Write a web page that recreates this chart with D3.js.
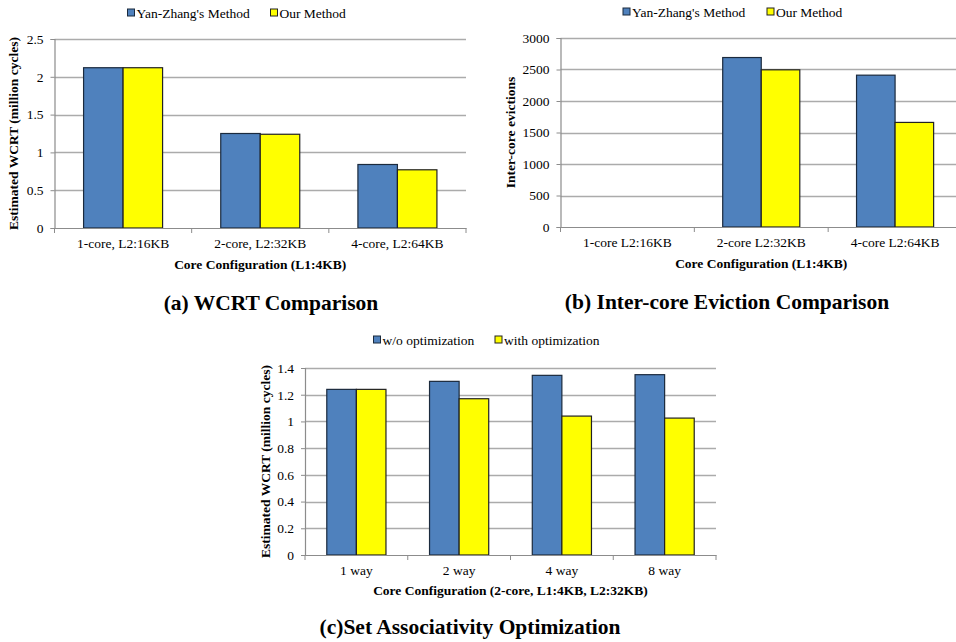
<!DOCTYPE html>
<html>
<head>
<meta charset="utf-8">
<script src="https://cdn.jsdelivr.net/npm/d3@7"></script>
<style>
  html, body { margin: 0; padding: 0; background: #fff; }
  svg { display: block; }
  text { font-family: "Liberation Serif", "Times New Roman", serif; fill: #000; }
</style>
</head>
<body>
<svg id="chart" width="956" height="642"></svg>
<script>
// ---------- DATA ----------
const seriesAB = ["Yan-Zhang's Method", "Our Method"];
const seriesC = ["w/o optimization", "with optimization"];

const categoriesA = ["1-core, L2:16KB", "2-core, L2:32KB", "4-core, L2:64KB"];
const yanZhangA = [2.12, 1.25, 0.84];
const ourMethodA = [2.12, 1.24, 0.77];
const yTicksA = [0, 0.5, 1, 1.5, 2, 2.5];

const categoriesB = ["1-core L2:16KB", "2-core L2:32KB", "4-core L2:64KB"];
const yanZhangB = [0, 2690, 2410];
const ourMethodB = [0, 2495, 1660];
const yTicksB = [0, 500, 1000, 1500, 2000, 2500, 3000];

const categoriesC = ["1 way", "2 way", "4 way", "8 way"];
const withoutOptC = [1.24, 1.30, 1.345, 1.35];
const withOptC = [1.24, 1.17, 1.04, 1.025];
const yTicksC = [0, 0.2, 0.4, 0.6, 0.8, 1, 1.2, 1.4];

// ---------- STYLE ----------
const colors = ["#4F81BD", "#FFFF00"];
const strokes = ["#1b2a3d", "#222222"];
const gridColor = "#ababab";
const axisColor = "#8c8c8c";
const tickFont = 13.5;
const titleFont = 13.5;

const svg = d3.select("#chart");

function drawChart(cfg) {
  const g = svg.append("g");
  const x0 = d3.scaleBand().domain(cfg.categories).range([cfg.left, cfg.right]).paddingInner(0).paddingOuter(0);
  const bw = x0.bandwidth();
  const off = bw * 0.212;
  const x1 = d3.scaleBand().domain(cfg.series).range([off, bw - off]).padding(0);
  const y = d3.scaleLinear().domain([0, cfg.yTicks[cfg.yTicks.length - 1]]).range([cfg.bottom, cfg.top]);

  // gridlines
  g.selectAll("line.grid").data(cfg.yTicks.filter(t => t !== 0)).enter().append("line")
    .attr("x1", cfg.left).attr("x2", cfg.right)
    .attr("y1", d => Math.round(y(d)) + 0.5).attr("y2", d => Math.round(y(d)) + 0.5)
    .attr("stroke", gridColor).attr("stroke-width", 1.5);

  // y axis via d3 axis
  const yAxis = d3.axisLeft(y).tickValues(cfg.yTicks).tickSize(4).tickPadding(7)
    .tickFormat(d => String(d));
  const ya = g.append("g").attr("transform", `translate(${cfg.left},0)`).call(yAxis);
  ya.select(".domain").attr("stroke", axisColor).attr("stroke-width", 1.2);
  ya.selectAll(".tick line").attr("stroke", axisColor);
  ya.selectAll(".tick text").attr("font-size", tickFont).attr("fill", "#000")
    .style("font-family", "Liberation Serif");

  // bars
  const data = cfg.categories.map((c, i) => ({ cat: c, vals: cfg.series.map((s, j) => ({ s, j, v: cfg.values[j][i] })) }));
  const grp = g.selectAll("g.cat").data(data).enter().append("g")
    .attr("transform", d => `translate(${x0(d.cat)},0)`);
  grp.selectAll("rect").data(d => d.vals.filter(v => v.v > 0)).enter().append("rect")
    .attr("x", d => x1(d.s))
    .attr("width", x1.bandwidth())
    .attr("y", d => y(d.v))
    .attr("height", d => y(0) - y(d.v))
    .attr("fill", d => colors[d.j])
    .attr("stroke", d => strokes[d.j])
    .attr("stroke-width", 1.2);

  // x axis line and ticks
  const xa = d3.axisBottom(x0).tickSize(0).tickPadding(10);
  const xg = g.append("g").attr("transform", `translate(0,${y(0)})`).call(xa);
  xg.select(".domain").attr("stroke", axisColor).attr("stroke-width", 1.2);
  xg.selectAll(".tick text").attr("font-size", tickFont).attr("fill", "#000")
    .style("font-family", "Liberation Serif").attr("dy", "0.71em");
  const bounds = cfg.categories.map(c => x0(c)).concat([cfg.right]);
  g.selectAll("line.xtick").data(bounds).enter().append("line")
    .attr("x1", d => d).attr("x2", d => d)
    .attr("y1", y(0)).attr("y2", y(0) + 5)
    .attr("stroke", axisColor);

  // axis titles
  g.append("text").attr("x", (cfg.left + Math.min(cfg.right, cfg.titleRight || cfg.right)) / 2).attr("y", cfg.xTitleY)
    .attr("text-anchor", "middle").attr("dominant-baseline", "central")
    .attr("font-size", titleFont).attr("font-weight", "bold").text(cfg.xTitle);
  g.append("text")
    .attr("transform", `translate(${cfg.yTitleX},${(cfg.top + cfg.bottom) / 2}) rotate(-90)`)
    .attr("text-anchor", "middle").attr("dominant-baseline", "central")
    .attr("font-size", titleFont).attr("font-weight", "bold").text(cfg.yTitle);

  // caption
  g.append("text").attr("x", cfg.captionX).attr("y", cfg.captionY)
    .attr("text-anchor", "middle").attr("dominant-baseline", "central")
    .attr("font-size", 21.5).attr("font-weight", "bold").text(cfg.caption);

  // legend
  const lg = g.append("g");
  cfg.series.forEach((s, j) => {
    lg.append("rect").attr("x", cfg.legendX[j]).attr("y", cfg.legendY - 4)
      .attr("width", 7).attr("height", 7)
      .attr("fill", colors[j]).attr("stroke", strokes[j]).attr("stroke-width", 1);
    lg.append("text").attr("x", cfg.legendX[j] + 9).attr("y", cfg.legendY)
      .attr("dominant-baseline", "central").attr("font-size", tickFont).text(s);
  });
}

drawChart({
  categories: categoriesA, series: seriesAB, values: [yanZhangA, ourMethodA], yTicks: yTicksA,
  left: 54.5, right: 466, top: 39, bottom: 228,
  xTitle: "Core Configuration (L1:4KB)", xTitleY: 264,
  yTitle: "Estimated WCRT (million cycles)", yTitleX: 13,
  caption: "(a) WCRT Comparison", captionX: 271, captionY: 303,
  legendX: [127.5, 270.5], legendY: 13
});

drawChart({
  categories: categoriesB, series: seriesAB, values: [yanZhangB, ourMethodB], yTicks: yTicksB,
  left: 560.5, right: 962, top: 38, bottom: 227, titleRight: 962,
  xTitle: "Core Configuration (L1:4KB)", xTitleY: 263,
  yTitle: "Inter-core evictions", yTitleX: 510,
  caption: "(b) Inter-core Eviction Comparison", captionX: 727, captionY: 302,
  legendX: [623, 767], legendY: 12
});

drawChart({
  categories: categoriesC, series: seriesC, values: [withoutOptC, withOptC], yTicks: yTicksC,
  left: 305, right: 716, top: 368, bottom: 555,
  xTitle: "Core Configuration (2-core, L1:4KB, L2:32KB)", xTitleY: 590,
  yTitle: "Estimated WCRT (million cycles)", yTitleX: 265,
  caption: "(c)Set Associativity Optimization", captionX: 470, captionY: 627,
  legendX: [373.5, 495], legendY: 340
});
</script>
</body>
</html>
